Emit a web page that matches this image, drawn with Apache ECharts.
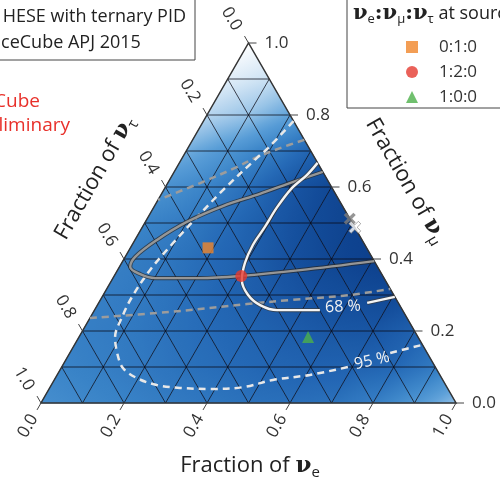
<!DOCTYPE html>
<html><head><meta charset="utf-8">
<script src="https://cdn.jsdelivr.net/npm/echarts@6/dist/echarts.min.js"></script>
<style>html,body{margin:0;padding:0;background:#fff}#c{width:500px;height:480px}</style>
</head><body><div id="c"></div>
<script>
const S3 = Math.sqrt(3) / 2;
const FONT = '"Open Sans", "DejaVu Sans", sans-serif';

// Likelihood shade (0 = white, 1 = darkest) read at lattice vertices.
// vertRowJ: nu_mu fraction = J/10, entries for nu_e fraction = 0, 0.1, ... , 1 - J/10
const vertRow0 = [0.52,0.55,0.58,0.61,0.64,0.67,0.68,0.67,0.6,0.48,0.32];
const vertRow1 = [0.57,0.6,0.63,0.67,0.7,0.73,0.75,0.75,0.72,0.62];
const vertRow2 = [0.6,0.62,0.66,0.7,0.74,0.78,0.82,0.83,0.76];
const vertRow3 = [0.6,0.63,0.68,0.74,0.8,0.86,0.9,0.92];
const vertRow4 = [0.6,0.64,0.7,0.77,0.86,0.94,0.99];
const vertRow5 = [0.57,0.62,0.7,0.8,0.9,0.97];
const vertRow6 = [0.5,0.57,0.68,0.82,0.93];
const vertRow7 = [0.38,0.48,0.6,0.74];
const vertRow8 = [0.22,0.3,0.42];
const vertRow9 = [0.1,0.17];
const vertRow10 = [0.0];
const vertRows = [vertRow0,vertRow1,vertRow2,vertRow3,vertRow4,vertRow5,vertRow6,vertRow7,vertRow8,vertRow9,vertRow10];

const shadeStops = [0, 0.143, 0.286, 0.429, 0.571, 0.714, 0.857, 1];
const shadeColors = ['#ffffff','#d4e6f5','#9cc6e8','#5b9fd8','#3a84c8','#2468b5','#16519f','#0c3f8b'];

const tickValues = [0, 0.2, 0.4, 0.6, 0.8, 1.0];
const tickLabels = ['0.0', '0.2', '0.4', '0.6', '0.8', '1.0'];
const gridValues = [0.1, 0.2, 0.3, 0.4, 0.5, 0.6, 0.7, 0.8, 0.9];

// contours as [fraction nu_e, fraction nu_mu]
const c68a = [[0.333,0.667],[0.324,0.633],[0.306,0.597],[0.297,0.544],[0.295,0.489],[0.291,0.439],[0.297,0.389],[0.313,0.342],[0.349,0.300],[0.392,0.272],[0.440,0.258],[0.543,0.258]];
const c68b = [[0.647,0.278],[0.705,0.295]];
const c95a = [[0.217,0.783],[0.193,0.708],[0.180,0.681],[0.143,0.592],[0.118,0.517],[0.096,0.444],[0.078,0.369],[0.072,0.294],[0.076,0.239],[0.087,0.183],[0.114,0.139],[0.149,0.097],[0.197,0.069],[0.254,0.050],[0.314,0.042],[0.388,0.039],[0.465,0.044],[0.527,0.064],[0.609,0.078],[0.690,0.100]];
const c95b = [[0.772,0.139],[0.837,0.161]];
const grayC = [[0.358,0.642],[0.294,0.611],[0.237,0.581],[0.165,0.547],[0.100,0.503],[0.053,0.453],[0.024,0.406],[0.026,0.378],[0.060,0.358],[0.101,0.347],[0.210,0.347],[0.306,0.353],[0.440,0.369],[0.606,0.394]];
const grayDUpper = [[0.269,0.731],[0.222,0.708],[0.179,0.683],[0.141,0.653],[0.078,0.611],[0.0,0.564]];
const grayDLower = [[0.0,0.236],[0.184,0.253],[0.359,0.275],[0.457,0.286],[0.594,0.300],[0.683,0.317]];

const contourLabelText = ['68 %', '95 %'];
const contourLabelAt = [[0.594,0.267],[0.739,0.117]];

const src010 = [[0.187,0.431]];
const src120 = [[0.306,0.353]];
const src100 = [[0.552,0.183]];
const bestGray = [[0.488,0.512]];
const bestWhite = [[0.512,0.488]];

function tern(fe, fm) { return [fe + fm / 2, fm * S3]; }
const toXY = arr => arr.map(p => tern(p[0], p[1]));

function hexToRgb(h) { return [parseInt(h.substr(1,2),16), parseInt(h.substr(3,2),16), parseInt(h.substr(5,2),16)]; }
const shadeRgb = shadeColors.map(hexToRgb);
function shade(v) {
  v = Math.max(0, Math.min(1, v));
  let k = 0;
  while (k < shadeStops.length - 2 && v > shadeStops[k + 1]) k++;
  const t = (v - shadeStops[k]) / (shadeStops[k + 1] - shadeStops[k]);
  const a = shadeRgb[k], b = shadeRgb[k + 1];
  return 'rgb(' + [0,1,2].map(c => Math.round(a[c] + (b[c] - a[c]) * t)).join(',') + ')';
}

// cells: [i, j, up(1)/down(0)]
const cellData = [];
for (let j = 0; j < 10; j++) {
  for (let i = 0; i + j <= 9; i++) cellData.push([i, j, 1]);
  for (let i = 0; i + j <= 8; i++) cellData.push([i, j, 0]);
}
const gridData = [];
gridValues.forEach(v => [0, 1, 2].forEach(f => gridData.push([v, f])));
const tickData = [];
tickValues.forEach((t, i) => [0, 1, 2].forEach(a => tickData.push([t, a, i])));

const chart = echarts.init(document.getElementById('c'));

function lineSeries(data, color, width, dash, z) {
  return { type: 'line', data: toXY(data), smooth: 0.35, symbol: 'none', clip: false, silent: true, z: z,
    lineStyle: { color: color, width: width, type: dash || 'solid', cap: 'butt' } };
}
const Xpath = 'path://M2,0 L5,3 L8,0 L10,2 L7,5 L10,8 L8,10 L5,7 L2,10 L0,8 L3,5 L0,2 Z';
const titleRich = {
  a: { fontSize: 22, fontFamily: FONT, fill: '#222', lineHeight: 28 },
  n: { fontSize: 23, fontWeight: 'bold', fontFamily: 'DejaVu Serif', fill: '#222', lineHeight: 28 },
  s: { fontSize: 15, fontFamily: FONT, fill: '#222', verticalAlign: 'bottom', lineHeight: 15 }
};

chart.setOption({
  animation: false,
  grid: { left: 41, top: 43, width: 415, height: 360 },
  xAxis: { type: 'value', min: 0, max: 1, show: false },
  yAxis: { type: 'value', min: 0, max: S3, show: false },
  legend: {
    data: ['0:1:0', '1:2:0', '1:0:0'], orient: 'vertical', left: 401, top: 33,
    itemWidth: 12, itemHeight: 12, itemGap: 7,
    textStyle: { fontSize: 17, color: '#333', fontFamily: FONT, padding: [0, 0, 0, 16], lineHeight: 18 }
  },
  graphic: [
    { type: 'rect', z: -1, shape: { x: -3, y: -3, width: 198, height: 63 }, style: { fill: '#fff', stroke: '#444', lineWidth: 1 } },
    { type: 'text', style: { text: 'HESE with ternary PID', x: 186, y: 17, align: 'right', verticalAlign: 'middle', fill: '#222', font: '18px ' + FONT } },
    { type: 'text', style: { text: 'IceCube APJ 2015', x: -4, y: 43, align: 'left', verticalAlign: 'middle', fill: '#222', font: '18px ' + FONT } },
    { type: 'text', style: { text: 'IceCube', x: 40, y: 102, align: 'right', verticalAlign: 'middle', fill: '#e8302a', font: '19px ' + FONT } },
    { type: 'text', style: { text: 'Preliminary', x: 70, y: 126, align: 'right', verticalAlign: 'middle', fill: '#e8302a', font: '19px ' + FONT } },
    { type: 'rect', z: -1, shape: { x: 347, y: -3, width: 170, height: 111 }, style: { fill: '#fff', stroke: '#444', lineWidth: 1 } },
    { type: 'text', style: { x: 353, y: 14, verticalAlign: 'middle', align: 'left',
        text: '{n|ν}{s|e}{n|:ν}{s|μ}{n|:ν}{s|τ}{t| at source}',
        rich: { n: { fontSize: 21, fontWeight: 'bold', fontFamily: 'DejaVu Serif', fill: '#222', lineHeight: 24 },
                s: { fontSize: 13, fontFamily: FONT, fill: '#222', verticalAlign: 'bottom', lineHeight: 13 },
                t: { fontSize: 18, fontFamily: FONT, fill: '#222', lineHeight: 24 } } } },
    { type: 'text', x: 250, y: 466, style: { x: 0, y: 0, align: 'center', verticalAlign: 'middle', text: '{a|Fraction of }{n|ν}{s|e}', rich: titleRich } },
    { type: 'text', x: 95, y: 178, rotation: Math.PI / 3, style: { x: 0, y: 0, align: 'center', verticalAlign: 'middle', text: '{a|Fraction of }{n|ν}{s|τ}', rich: titleRich } },
    { type: 'text', x: 406, y: 181, rotation: -Math.PI / 3, style: { x: 0, y: 0, align: 'center', verticalAlign: 'middle', text: '{a|Fraction of }{n|ν}{s|μ}', rich: titleRich } }
  ],
  series: [
    { type: 'custom', name: 'heat', data: cellData, z: 1, silent: true,
      renderItem: function (params, api) {
        const i = api.value(0), j = api.value(1), up = api.value(2);
        const v = up ? [[i, j], [i + 1, j], [i, j + 1]] : [[i + 1, j], [i, j + 1], [i + 1, j + 1]];
        const pts = v.map(p => api.coord(tern(p[0] / 10, p[1] / 10)));
        const vals = v.map(p => vertRows[p[1]][p[0]]);
        const e1 = [pts[1][0] - pts[0][0], pts[1][1] - pts[0][1]];
        const e2 = [pts[2][0] - pts[0][0], pts[2][1] - pts[0][1]];
        const d1 = vals[1] - vals[0], d2 = vals[2] - vals[0];
        const det = e1[0] * e2[1] - e1[1] * e2[0];
        const g = [(d1 * e2[1] - d2 * e1[1]) / det, (e1[0] * d2 - e2[0] * d1) / det];
        const gg = g[0] * g[0] + g[1] * g[1];
        const vmin = Math.min.apply(null, vals), vmax = Math.max.apply(null, vals);
        let fill;
        if (gg < 1e-12 || vmax - vmin < 1e-4) fill = shade(vals[0]);
        else {
          const A = [pts[0][0] + g[0] * (vmin - vals[0]) / gg, pts[0][1] + g[1] * (vmin - vals[0]) / gg];
          const B = [pts[0][0] + g[0] * (vmax - vals[0]) / gg, pts[0][1] + g[1] * (vmax - vals[0]) / gg];
          const stops = [];
          for (let s = 0; s <= 6; s++) stops.push({ offset: s / 6, color: shade(vmin + (vmax - vmin) * s / 6) });
          fill = new echarts.graphic.LinearGradient(A[0], A[1], B[0], B[1], stops, true);
        }
        return { type: 'polygon', shape: { points: pts }, style: { fill: fill, stroke: fill, lineWidth: 0.7 } };
      } },
    { type: 'custom', name: 'gridlines', data: gridData, z: 2, silent: true,
      renderItem: function (params, api) {
        const v = api.value(0), f = api.value(1);
        let e;
        if (f === 0) e = [[0, v], [1 - v, v]];
        else if (f === 1) e = [[v, 0], [v, 1 - v]];
        else e = [[0, 1 - v], [1 - v, 0]];
        const a = api.coord(tern(e[0][0], e[0][1])), b = api.coord(tern(e[1][0], e[1][1]));
        return { type: 'line', shape: { x1: a[0], y1: a[1], x2: b[0], y2: b[1] }, style: { stroke: 'rgba(10,10,20,0.75)', lineWidth: 1 } };
      } },
    { type: 'custom', name: 'frame', data: [[0]], z: 3, silent: true,
      renderItem: function (params, api) {
        const pts = [tern(0, 0), tern(1, 0), tern(0, 1)].map(p => api.coord(p));
        return { type: 'polygon', shape: { points: pts }, style: { fill: 'none', stroke: '#333', lineWidth: 1.5 } };
      } },
    { type: 'custom', name: 'ticks', data: tickData, z: 3, silent: true,
      renderItem: function (params, api) {
        const t = api.value(0), ax = api.value(1), idx = api.value(2);
        let P, d, lp, rot, align;
        if (ax === 0) { P = api.coord(tern(t, 0)); d = [-0.5, 0.866]; lp = [-13, 23]; rot = Math.PI / 3; align = 'center'; }
        else if (ax === 1) { P = api.coord(tern(1 - t, t)); d = [1, 0]; lp = [16, 0]; rot = 0; align = 'left'; }
        else { P = api.coord(tern(0, 1 - t)); d = [-0.5, -0.866]; lp = [-17, -24]; rot = -Math.PI / 3; align = 'center'; }
        return { type: 'group', children: [
          { type: 'line', shape: { x1: P[0], y1: P[1], x2: P[0] + 8 * d[0], y2: P[1] + 8 * d[1] }, style: { stroke: '#444', lineWidth: 1 } },
          { type: 'text', x: P[0] + lp[0], y: P[1] + lp[1], rotation: rot,
            style: { text: tickLabels[idx], x: 0, y: 0, align: align, verticalAlign: 'middle', fill: '#333', font: '17px ' + FONT } }
        ] };
      } },
    lineSeries(grayDUpper, '#9c9c9c', 2.5, [7, 5], 4),
    lineSeries(grayDLower, '#9c9c9c', 2.5, [7, 5], 4),
    lineSeries(c95a, '#e8e8e8', 2.5, [7, 5], 5),
    lineSeries(c95b, '#e8e8e8', 2.5, [7, 5], 5),
    lineSeries(grayC, 'rgba(40,40,40,0.7)', 4.2, null, 6),
    lineSeries(grayC, '#969696', 2.4, null, 6),
    lineSeries(c68a, 'rgba(60,60,60,0.7)', 4.2, null, 7),
    lineSeries(c68b, 'rgba(60,60,60,0.7)', 4.2, null, 7),
    lineSeries(c68a, '#f4f4f4', 2.4, null, 7),
    lineSeries(c68b, '#f4f4f4', 2.4, null, 7),
    { type: 'custom', name: 'clabels', data: contourLabelAt.map((p, i) => [p[0], p[1], i]), z: 8, silent: true,
      renderItem: function (params, api) {
        const i = api.value(2);
        const P = api.coord(tern(api.value(0), api.value(1)));
        return { type: 'text', x: P[0], y: P[1], rotation: i === 1 ? 0.22 : 0.05,
          style: { text: contourLabelText[i], x: 0, y: 0, align: 'center', verticalAlign: 'middle', fill: '#f2f2f2', font: '16px ' + FONT } };
      } },
    { type: 'scatter', name: '0:1:0', data: toXY(src010), symbol: 'rect', symbolSize: 11, z: 9, itemStyle: { color: '#f0862a' } },
    { type: 'scatter', name: '1:2:0', data: toXY(src120), symbol: 'circle', symbolSize: 12, z: 9, itemStyle: { color: '#e5392f' } },
    { type: 'scatter', name: '1:0:0', data: toXY(src100), symbol: 'triangle', symbolSize: 12, z: 9, itemStyle: { color: '#4cb04a' } },
    { type: 'scatter', name: 'best-gray', data: toXY(bestGray), symbol: Xpath, symbolSize: 12, z: 9, itemStyle: { color: '#7c7c7c' } },
    { type: 'scatter', name: 'best-white', data: toXY(bestWhite), symbol: Xpath, symbolSize: 12, z: 9, itemStyle: { color: '#ffffff', borderColor: '#777', borderWidth: 0.8 } }
  ]
});
</script>
</body></html>
